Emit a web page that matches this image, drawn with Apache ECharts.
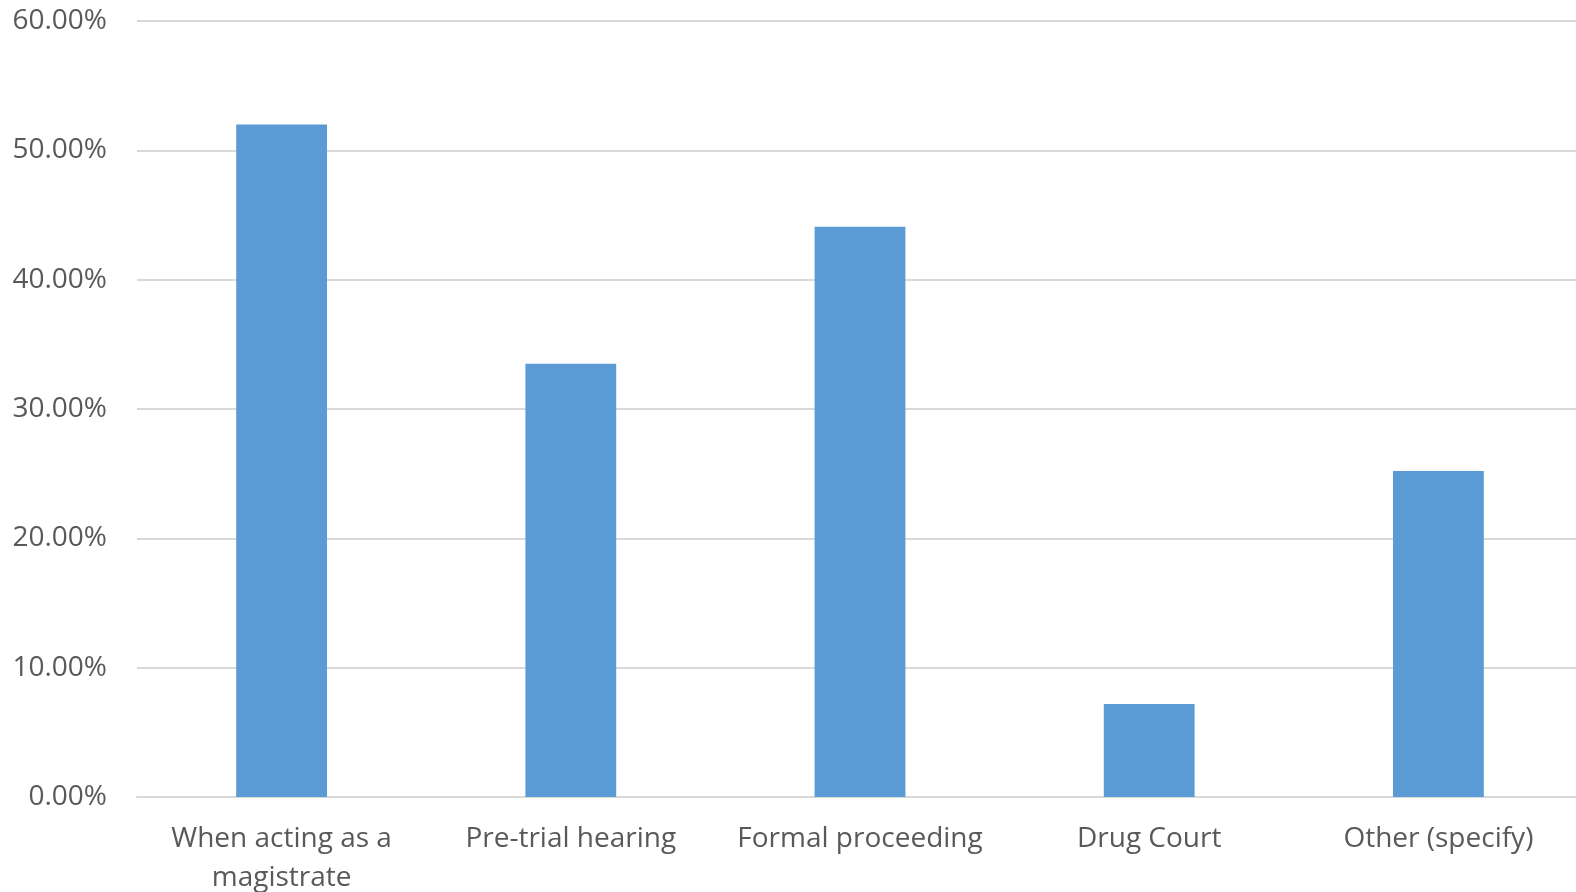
<!DOCTYPE html>
<html>
<head>
<meta charset="utf-8">
<script src="https://cdn.jsdelivr.net/npm/echarts@6/dist/echarts.min.js"></script>
<style>
  html, body { margin: 0; padding: 0; background: #ffffff; }
  #chart { width: 1576px; height: 892px; }
</style>
</head>
<body>
<div id="chart"></div>
<script>
// Share of responses by setting
const categories = [
  'When acting as a\nmagistrate',
  'Pre-trial hearing',
  'Formal proceeding',
  'Drug Court',
  'Other (specify)'
];
const shares = [0.520, 0.335, 0.441, 0.072, 0.252];

const axisMin = 0;
const axisMax = 0.6;
const axisStep = 0.1;

const textColor = '#595959';
const fontFamily = '"Open Sans", "Noto Sans", sans-serif';

const chart = echarts.init(document.getElementById('chart'));
chart.setOption({
  animation: false,
  backgroundColor: '#ffffff',
  // plot area runs slightly past the right edge of the canvas;
  // labels are allowed to sit close to the edges
  grid: {
    left: 137, right: -7, top: 21, bottom: 95,
    containLabel: false,
    outerBoundsMode: 'none'
  },
  xAxis: {
    type: 'category',
    data: categories,
    axisLine: { show: true, lineStyle: { color: '#D9D9D9', width: 2 } },
    axisTick: { show: false },
    axisLabel: {
      color: textColor,
      fontFamily: fontFamily,
      fontSize: 28,
      lineHeight: 39,
      margin: 23,
      interval: 0
    }
  },
  yAxis: {
    type: 'value',
    min: axisMin,
    max: axisMax,
    interval: axisStep,
    axisLine: { show: false },
    axisTick: { show: false },
    splitLine: { lineStyle: { color: '#D9D9D9', width: 2 } },
    axisLabel: {
      color: textColor,
      fontFamily: fontFamily,
      fontSize: 28,
      margin: 30,
      formatter: v => (v * 100).toFixed(2) + '%'
    }
  },
  series: [{
    type: 'bar',
    data: shares,
    barWidth: '31.4%',
    itemStyle: { color: '#5B9BD5' }
  }]
});
</script>
</body>
</html>
